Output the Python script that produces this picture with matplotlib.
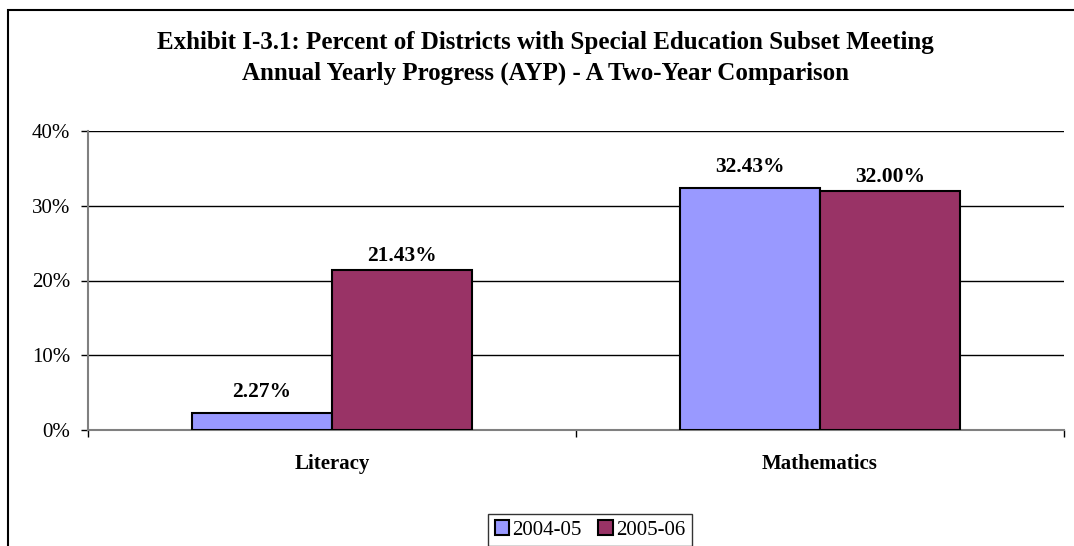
import numpy as np
import matplotlib.pyplot as plt
from matplotlib.patches import Rectangle
from matplotlib.ticker import FixedLocator, PercentFormatter

categories = ['Literacy', 'Mathematics']
years = ['2004-05', '2005-06']
values_0405 = [2.27, 32.43]
values_0506 = [21.43, 32.00]
colors = ['#9999FF', '#993366']
title = ('Exhibit I-3.1: Percent of Districts with Special Education Subset Meeting\n'
         'Annual Yearly Progress (AYP) - A Two-Year Comparison')

plt.rcParams['font.family'] = ['Liberation Serif', 'DejaVu Serif']

W, H = 1074, 546
fig = plt.figure(figsize=(W / 100, H / 100), dpi=100)

# chart frame running off the right and bottom edges
fig.patches.append(Rectangle((8 / W, -0.2), 1.3, 1.2 - 10 / H, transform=fig.transFigure,
                             fill=False, edgecolor='black', linewidth=1.5, clip_on=False))

ax = fig.add_axes([88 / W, 1 - 430 / H, (1064 - 88) / W, (430 - 131) / H])

x = np.arange(len(categories))
width = 0.287
series = [values_0405, values_0506]
offsets = [11.5, 6]
for i, vals in enumerate(series):
    pos = x + (i - 0.5) * width
    ax.bar(pos, vals, width, color=colors[i], edgecolor='black', linewidth=1.5,
           label=years[i], zorder=3)
    for p, v in zip(pos, vals):
        ax.annotate(f'{v:.2f}%', (p, v), xytext=(0, offsets[i]), textcoords='offset points',
                    ha='center', va='baseline', fontsize=15.5, fontweight='bold')

ax.set_xlim(-0.5, 1.5)
ax.set_ylim(0, 40)
ax.set_yticks(np.arange(0, 41, 10))
ax.yaxis.set_major_formatter(PercentFormatter(decimals=0))
ax.yaxis.grid(True, color='black', linewidth=1)
ax.set_axisbelow(True)

ax.xaxis.set_major_locator(FixedLocator([-0.5, 0.5, 1.5]))
ax.xaxis.set_minor_locator(FixedLocator(x))
ax.set_xticklabels([])
ax.set_xticks(x, categories, minor=True)
ax.tick_params(axis='x', which='major', length=5, width=1, direction='out', color='black')
ax.tick_params(axis='x', which='minor', length=0, pad=17, labelsize=15)
for lab in ax.get_xticklabels(minor=True):
    lab.set_fontweight('bold')
ax.tick_params(axis='y', length=5, width=1, direction='out', color='black', pad=8, labelsize=15)

for s in ['top', 'right']:
    ax.spines[s].set_visible(False)
for s in ['left', 'bottom']:
    ax.spines[s].set_color('#808080')
    ax.spines[s].set_linewidth(1.5)

fig.text(545 / W, 1 - 58 / H, title, ha='center', va='center', fontsize=18,
         fontweight='bold', linespacing=1.45)

leg = fig.legend(loc='upper center', bbox_to_anchor=(590 / W, 1 - 514 / H), ncol=2,
                 fontsize=15, frameon=True, fancybox=False, edgecolor='black',
                 handlelength=0.7, handleheight=0.7, handletextpad=0.15,
                 columnspacing=0.8, borderpad=0.3, borderaxespad=0)
leg.get_frame().set_linewidth(1)

fig.savefig('out.png', dpi=100)
